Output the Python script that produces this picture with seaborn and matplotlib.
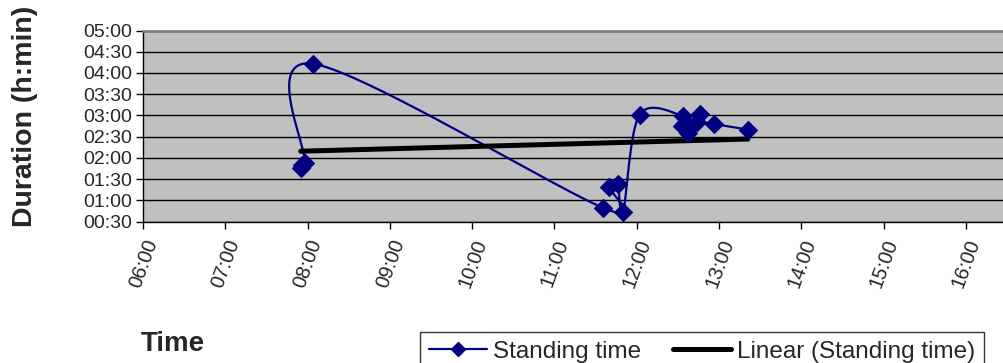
import numpy as np
import pandas as pd
import matplotlib
matplotlib.use('Agg')
import matplotlib.pyplot as plt
import seaborn as sns
from matplotlib.lines import Line2D

# Values: clock time and standing duration (h:min)
# (some points overlap in the picture, e.g. around 07:56 and 12:35)
times = ['07:55', '07:56', '07:58', '08:04', '11:35', '11:40', '11:46', '11:50',
         '12:02', '12:34', '12:35', '12:33', '12:38', '12:37', '12:46', '12:44',
         '12:56', '13:21']
durations = ['1:46', '1:50', '1:53', '4:13', '0:50', '1:19', '1:23', '0:44',
             '3:01', '2:59', '2:50', '2:45', '2:42', '2:35', '3:02', '2:51',
             '2:48', '2:40']
x_ticks = ['06:00', '07:00', '08:00', '09:00', '10:00', '11:00',
           '12:00', '13:00', '14:00', '15:00', '16:00']
y_ticks = ['00:30', '01:00', '01:30', '02:00', '02:30', '03:00',
           '03:30', '04:00', '04:30', '05:00']


def to_hours(s):
    h, m = s.split(':')
    return int(h) + int(m) / 60


def smooth(x, y, sx, sy, n=40):
    # Excel style smoothed line (Catmull-Rom as cubic Bezier), in screen scale
    P = np.column_stack([np.asarray(x) * sx, np.asarray(y) * sy])
    P = np.vstack([P[0], P, P[-1]])
    t = np.linspace(0, 1, n)[:, None]
    out = []
    for i in range(1, len(P) - 2):
        p0, p1, p2, p3 = P[i - 1], P[i], P[i + 1], P[i + 2]
        c1 = p1 + (p2 - p0) / 6
        c2 = p2 - (p3 - p1) / 6
        out.append((1 - t) ** 3 * p1 + 3 * (1 - t) ** 2 * t * c1
                   + 3 * (1 - t) * t ** 2 * c2 + t ** 3 * p2)
    out = np.vstack(out)
    return out[:, 0] / sx, out[:, 1] / sy


df = pd.DataFrame({'time': [to_hours(t) for t in times],
                   'duration': [to_hours(d) for d in durations]})

sns.set_style('ticks')
plt.rcParams['font.family'] = ['Liberation Sans', 'DejaVu Sans']

navy = '#000080'
fig = plt.figure(figsize=(10.04, 3.63), dpi=100)
ax = fig.add_axes([143 / 1004, 1 - 221.7 / 363, 861 / 1004, 191.2 / 363])
ax.set_facecolor('#C0C0C0')

cx, cy = smooth(df['time'], df['duration'], 82.3, 42.48)
sns.lineplot(x=cx, y=cy, sort=False, estimator=None, color=navy, lw=1.6,
             ax=ax, zorder=2)
sns.regplot(data=df, x='time', y='duration', scatter=False, ci=None,
            truncate=True, color='black', line_kws={'lw': 3.6, 'zorder': 3},
            ax=ax)
sns.scatterplot(data=df, x='time', y='duration', marker='D', s=85,
                color=navy, edgecolor=navy, ax=ax, zorder=4)

xt = [to_hours(t) for t in x_ticks]
yt = [to_hours(t) for t in y_ticks]
ax.set_xlim(6, 6 + 861 / 82.3)
ax.set_ylim(0.5, 5.0)
ax.set_xticks(xt)
ax.set_xticklabels(x_ticks, rotation=70, ha='right', va='top',
                   rotation_mode='anchor', fontsize=14.5)
ax.set_yticks(yt)
ax.set_yticklabels(y_ticks, fontsize=14)
ax.tick_params(axis='both', length=5, width=1, color='black', pad=3)
ax.tick_params(axis='x', pad=6)
for y in yt:
    ax.axhline(y, color='black', lw=1, zorder=1)
ax.set_xlabel('')
ax.set_ylabel('')
for s in ['left', 'bottom']:
    ax.spines[s].set_color('black')
    ax.spines[s].set_linewidth(1)
ax.spines['top'].set_color('#808080')
ax.spines['top'].set_linewidth(2)
ax.spines['right'].set_visible(False)

fig.text(25 / 1004, 1 - 116 / 363, 'Duration (h:min)', rotation=90,
         ha='center', va='center', fontsize=20.5, fontweight='bold')
fig.text(141 / 1004, 1 - 344 / 363, 'Time', ha='left', va='center',
         fontsize=20, fontweight='bold')

handles = [Line2D([], [], color=navy, lw=1.6, marker='D', ms=7),
           Line2D([], [], color='black', lw=3.6)]
leg = fig.legend(handles, ['Standing time', 'Linear (Standing time)'],
                 loc='upper left', bbox_to_anchor=(420 / 1004, 1 - 332 / 363),
                 ncol=2, fontsize=17.5, frameon=True, fancybox=False,
                 borderaxespad=0, handlelength=2.4, handletextpad=0.25,
                 columnspacing=1.3, borderpad=0.35)
leg.get_frame().set_edgecolor('black')
leg.get_frame().set_linewidth(1)

plt.savefig('out.png', dpi=100)
plt.close()
